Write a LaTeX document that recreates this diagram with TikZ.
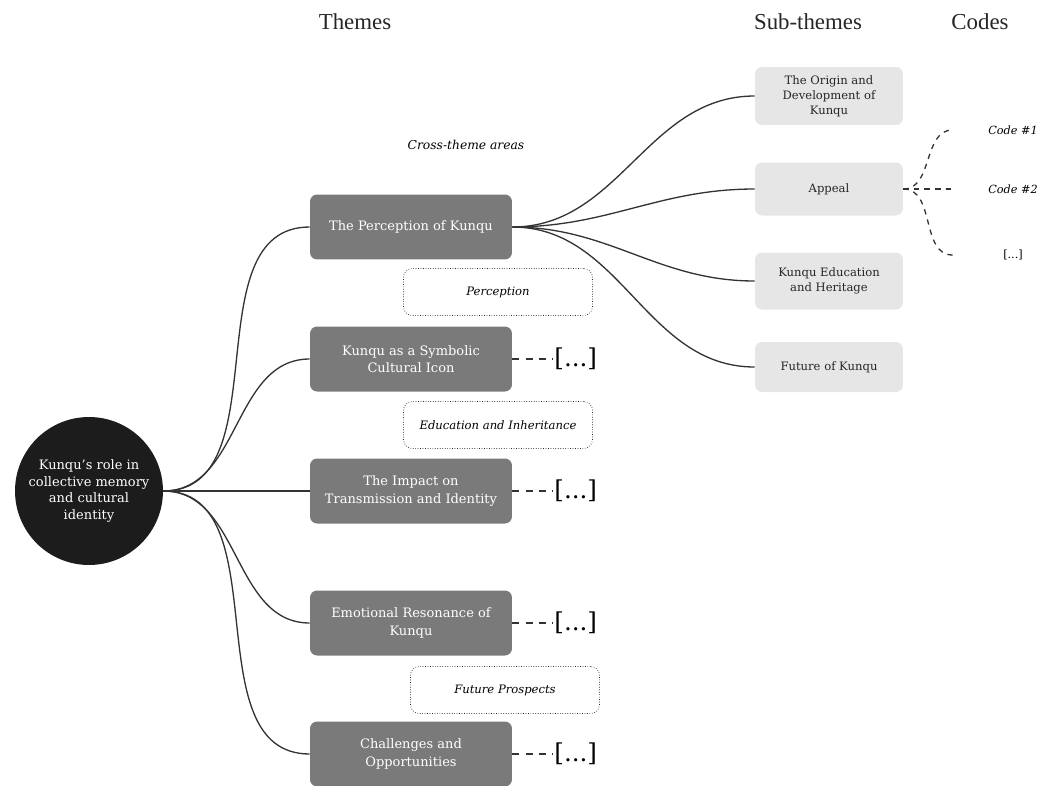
\documentclass[tikz,border=0pt]{standalone}
\usepackage{fontspec}
\setmainfont{DejaVu Serif}
\newfontfamily\headfont{Liberation Serif}
\usepackage{xcolor}
\usepackage{tikz}
\usetikzlibrary{positioning}
\definecolor{rootc}{HTML}{1C1C1C}
\definecolor{thmc}{HTML}{7A7A7A}
\definecolor{subc}{HTML}{E6E6E6}
\definecolor{linec}{HTML}{333333}
\tikzset{
  rootnd/.style={circle, fill=rootc, text=white, minimum size=2.96cm, inner sep=0pt, align=center, font=\fontsize{7.4}{9.6}\selectfont},
  thm/.style={rectangle, rounded corners=4pt, fill=thmc, text=white, minimum width=4.04cm, minimum height=1.3cm, align=center, font=\fontsize{7.4}{10}\selectfont},
  subt/.style={rectangle, rounded corners=4pt, fill=subc, text=black!85, minimum width=2.96cm, minimum height=1.06cm, align=center, font=\fontsize{6.6}{8.6}\selectfont},
  xarea/.style={rectangle, rounded corners=5pt, draw=black!85, densely dotted, minimum width=3.78cm, minimum height=0.94cm, font=\itshape\fontsize{6.6}{8}\selectfont},
  codend/.style={minimum width=2.4cm, inner sep=0pt, font=\itshape\fontsize{6.4}{8}\selectfont},
  more/.style={inner sep=1pt, font=\fontsize{14}{16}\selectfont},
  hdr/.style={text=black!85, font=\headfont\fontsize{13}{15}\selectfont},
  lnk/.style={draw=linec, line width=0.75pt, out=0, in=180},
  dlnk/.style={draw=linec, line width=0.75pt, dash pattern=on 4pt off 3.5pt},
}
\begin{document}
\begin{tikzpicture}[x=0.02cm, y=-0.02cm, node distance=0.8cm]
\useasboundingbox (0,0) rectangle (1052,785);
% column headings
\node[hdr] (hthm) at (355,22) {Themes};
\node[hdr] (hsub) at (808,22) {Sub-themes};
\node[hdr] (hcod) at (980,22) {Codes};
\node[font=\itshape\fontsize{7}{9}\selectfont] (hx) at (466,145) {Cross-theme areas};
% core
\node[rootnd] (root) at (89,491) {Kunqu’s role in\\collective memory\\and cultural\\identity};
% themes
\node[thm] (t1) at (411,227) {The Perception of Kunqu};
\node[thm] (t2) at (411,359) {Kunqu as a Symbolic\\Cultural Icon};
\node[thm] (t3) at (411,491) {The Impact on\\Transmission and Identity};
\node[thm] (t4) at (411,623) {Emotional Resonance of\\Kunqu};
\node[thm] (t5) at (411,754) {Challenges and\\Opportunities};
\foreach \t in {t1,t2,t3,t4,t5}
  \draw[lnk] (root.east) to (\t.west);
% cross-theme areas
\node[xarea] (x1) at (498,292) {Perception};
\node[xarea] (x2) at (498,425) {Education and Inheritance};
\node[xarea] (x3) at (505,690) {Future Prospects};
% not expanded
\foreach \t/\m in {t2/m2,t3/m3,t4/m4,t5/m5}{
  \node[more, right=of \t] (\m) {[...]};
  \draw[dlnk] (\t.east) -- (\m.west);
}
% sub-themes
\node[subt, minimum height=1.16cm] (s1) at (829,96) {The Origin and\\Development of\\Kunqu};
\node[subt] (s2) at (829,189) {Appeal};
\node[subt, minimum height=1.14cm] (s3) at (829,281) {Kunqu Education\\and Heritage};
\node[subt, minimum height=1.0cm] (s4) at (829,367) {Future of Kunqu};
\foreach \s in {s1,s2,s3,s4}
  \draw[lnk] (t1.east) to (\s.west);
% codes
\node[codend] (c1) at (1013,130) {Code \#1};
\node[codend] (c2) at (1013,189) {Code \#2};
\node[codend, font=\fontsize{6.4}{8}\selectfont] (c3) at (1013,255) {[...]};
\foreach \c in {c1,c2,c3}
  \draw[lnk, dash pattern=on 3pt off 3pt] (s2.east) to (\c.west);
\end{tikzpicture}
\end{document}
